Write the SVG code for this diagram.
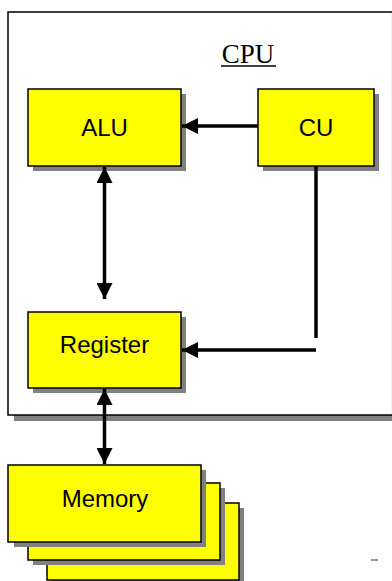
<svg xmlns="http://www.w3.org/2000/svg" width="392" height="581" viewBox="0 0 392 581">
  <defs>
    <marker id="arrow" viewBox="0 0 16 16" refX="16" refY="8" markerWidth="16" markerHeight="16" markerUnits="userSpaceOnUse" orient="auto-start-reverse">
      <path d="M0,0 L16,8 L0,16 Z" fill="#000"/>
    </marker>
  </defs>
  <style>
    .shadow { fill: #808080; }
    .box { fill: #ffff00; stroke: #000; stroke-width: 1.5; }
    .label { font-family: "Liberation Sans", Arial, sans-serif; font-size: 24px; fill: #000; text-anchor: middle; }
    .wire { fill: none; stroke: #000; stroke-width: 3.5; }
  </style>
  <rect width="392" height="581" fill="#fff"/>

  <!-- CPU frame -->
  <g id="cpu">
    <rect class="shadow" x="14" y="18" width="385" height="403"/>
    <rect x="8" y="12" width="384.7" height="403" fill="#fff" stroke="#000" stroke-width="1.5"/>
    <text x="248" y="63" font-family="'Liberation Serif', 'Times New Roman', serif" font-size="27" text-anchor="middle" fill="#000">CPU</text>
    <line x1="221" y1="66" x2="276" y2="66" stroke="#000" stroke-width="1.3"/>
  </g>

  <g id="alu">
    <rect class="shadow" x="33" y="94" width="153" height="77"/>
    <rect class="box" x="28" y="89" width="153" height="77"/>
    <text class="label" x="104.5" y="136">ALU</text>
  </g>

  <g id="cu">
    <rect class="shadow" x="263" y="94" width="116" height="77"/>
    <rect class="box" x="258" y="89" width="116" height="77"/>
    <text class="label" x="316" y="136">CU</text>
  </g>

  <g id="register">
    <rect class="shadow" x="33" y="317" width="153" height="76"/>
    <rect class="box" x="28" y="312" width="153" height="76"/>
    <text class="label" x="104.5" y="353">Register</text>
  </g>

  <g id="memory">
    <rect class="shadow" x="52" y="508" width="192" height="77"/>
    <rect class="box" x="47" y="503" width="192" height="77"/>
    <rect class="shadow" x="33" y="488" width="192" height="77"/>
    <rect class="box" x="28" y="483" width="192" height="77"/>
    <rect class="shadow" x="14" y="470" width="192" height="77"/>
    <rect class="box" x="8" y="465" width="193" height="77"/>
    <text class="label" x="105" y="507">Memory</text>
  </g>

  <g id="connectors">
    <!-- CU to ALU -->
    <line class="wire" x1="258" y1="126" x2="182" y2="126" marker-end="url(#arrow)"/>
    <!-- ALU and Register, both ways -->
    <line class="wire" x1="104.5" y1="167" x2="104.5" y2="299" marker-start="url(#arrow)" marker-end="url(#arrow)"/>
    <!-- CU down, then across to Register -->
    <line class="wire" x1="316" y1="166" x2="316" y2="338"/>
    <line class="wire" x1="316" y1="350" x2="182" y2="350" marker-end="url(#arrow)"/>
    <!-- Register and Memory, both ways -->
    <line class="wire" x1="104.5" y1="389" x2="104.5" y2="464" marker-start="url(#arrow)" marker-end="url(#arrow)"/>
  </g>

  <line x1="371" y1="560" x2="378" y2="560" stroke="#555" stroke-width="1.2"/>
</svg>
